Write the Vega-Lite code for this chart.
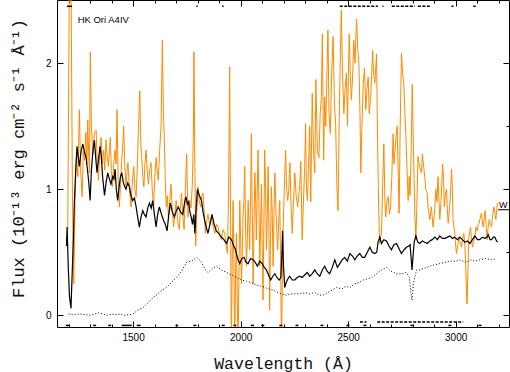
{
  "$schema": "https://vega.github.io/schema/vega-lite/v6.json",
  "width": 452,
  "height": 327,
  "autosize": {"type": "none"},
  "padding": {"left": 57, "top": 0, "right": 1, "bottom": 45},
  "background": "white",
  "config": {"view": {"stroke": null}},
  "datasets": {
    "orange": [
      {"w":1190,"f":0.55},{"w":1196,"f":0.68},{"w":1201,"f":2.0},{"w":1205,"f":3.2},{"w":1209,"f":3.2},{"w":1213,"f":2.2},{"w":1218,"f":0.9},{"w":1224,"f":0.25},{"w":1230,"f":0.9},{"w":1236,"f":1.25},{"w":1243,"f":1.1},{"w":1250,"f":1.63},{"w":1256,"f":1.15},{"w":1263,"f":0.94},{"w":1268,"f":1.3},{"w":1274,"f":1.23},{"w":1280,"f":1.45},{"w":1285,"f":1.2},{"w":1289,"f":1.55},{"w":1293,"f":1.3},{"w":1297,"f":1.13},{"w":1301,"f":2.09},{"w":1306,"f":1.5},{"w":1313,"f":1.28},{"w":1320,"f":1.45},{"w":1328,"f":1.47},{"w":1333,"f":1.2},{"w":1339,"f":1.07},{"w":1345,"f":1.3},{"w":1351,"f":1.41},{"w":1357,"f":1.2},{"w":1363,"f":1.31},{"w":1368,"f":1.15},{"w":1374,"f":1.39},{"w":1380,"f":1.25},{"w":1385,"f":1.18},{"w":1390,"f":1.3},{"w":1394,"f":1.41},{"w":1399,"f":1.15},{"w":1404,"f":1.02},{"w":1410,"f":1.2},{"w":1416,"f":1.31},{"w":1421,"f":1.2},{"w":1425,"f":1.63},{"w":1430,"f":1.1},{"w":1436,"f":0.86},{"w":1442,"f":1.05},{"w":1447,"f":1.23},{"w":1452,"f":1.35},{"w":1456,"f":1.5},{"w":1461,"f":1.2},{"w":1467,"f":1.02},{"w":1472,"f":1.15},{"w":1476,"f":1.21},{"w":1483,"f":1.0},{"w":1490,"f":0.86},{"w":1496,"f":1.05},{"w":1503,"f":1.18},{"w":1508,"f":1.0},{"w":1514,"f":0.94},{"w":1520,"f":1.2},{"w":1525,"f":1.5},{"w":1531,"f":1.78},{"w":1536,"f":1.35},{"w":1540,"f":1.25},{"w":1545,"f":1.1},{"w":1550,"f":1.02},{"w":1555,"f":1.2},{"w":1560,"f":1.31},{"w":1566,"f":1.15},{"w":1571,"f":1.04},{"w":1577,"f":1.15},{"w":1583,"f":1.21},{"w":1589,"f":1.0},{"w":1595,"f":0.86},{"w":1601,"f":1.1},{"w":1607,"f":1.25},{"w":1612,"f":1.15},{"w":1617,"f":1.07},{"w":1623,"f":1.3},{"w":1630,"f":1.5},{"w":1636,"f":2.18},{"w":1641,"f":1.6},{"w":1645,"f":1.39},{"w":1650,"f":1.05},{"w":1654,"f":0.86},{"w":1659,"f":0.95},{"w":1664,"f":0.78},{"w":1670,"f":0.9},{"w":1676,"f":1.04},{"w":1682,"f":0.85},{"w":1688,"f":0.7},{"w":1694,"f":0.8},{"w":1700,"f":0.91},{"w":1707,"f":0.75},{"w":1715,"f":0.68},{"w":1720,"f":0.85},{"w":1725,"f":0.97},{"w":1731,"f":0.8},{"w":1737,"f":0.68},{"w":1743,"f":1.0},{"w":1749,"f":1.28},{"w":1755,"f":0.78},{"w":1763,"f":0.91},{"w":1769,"f":0.85},{"w":1775,"f":1.02},{"w":1780,"f":1.4},{"w":1783,"f":2.09},{"w":1787,"f":1.2},{"w":1791,"f":0.55},{"w":1796,"f":0.8},{"w":1802,"f":1.02},{"w":1808,"f":0.9},{"w":1814,"f":0.86},{"w":1820,"f":0.95},{"w":1825,"f":0.97},{"w":1831,"f":0.8},{"w":1836,"f":0.65},{"w":1842,"f":0.75},{"w":1848,"f":0.8},{"w":1856,"f":0.72},{"w":1864,"f":0.78},{"w":1872,"f":0.7},{"w":1880,"f":0.65},{"w":1888,"f":0.72},{"w":1895,"f":0.7},{"w":1903,"f":0.63},{"w":1911,"f":0.6},{"w":1918,"f":0.68},{"w":1926,"f":0.65},{"w":1933,"f":0.55},{"w":1939,"f":0.49},{"w":1944,"f":1.0},{"w":1949,"f":1.97},{"w":1953,"f":0.8},{"w":1957,"f":-0.3},{"w":1961,"f":0.5},{"w":1965,"f":0.91},{"w":1969,"f":0.3},{"w":1973,"f":-0.2},{"w":1977,"f":0.4},{"w":1980,"f":0.65},{"w":1984,"f":0.2},{"w":1988,"f":-0.3},{"w":1992,"f":0.3},{"w":1996,"f":0.91},{"w":2000,"f":0.6},{"w":2004,"f":0.25},{"w":2008,"f":0.5},{"w":2011,"f":0.78},{"w":2015,"f":0.9},{"w":2019,"f":1.18},{"w":2023,"f":0.7},{"w":2027,"f":0.39},{"w":2031,"f":0.6},{"w":2035,"f":0.91},{"w":2039,"f":0.7},{"w":2042,"f":0.52},{"w":2046,"f":0.9},{"w":2050,"f":1.44},{"w":2054,"f":0.8},{"w":2058,"f":0.25},{"w":2062,"f":0.7},{"w":2066,"f":1.13},{"w":2070,"f":0.9},{"w":2073,"f":0.6},{"w":2077,"f":0.95},{"w":2081,"f":1.31},{"w":2085,"f":0.9},{"w":2089,"f":0.39},{"w":2093,"f":0.7},{"w":2097,"f":1.04},{"w":2100,"f":0.6},{"w":2104,"f":0.12},{"w":2108,"f":0.7},{"w":2112,"f":1.31},{"w":2116,"f":1.0},{"w":2120,"f":0.52},{"w":2124,"f":0.8},{"w":2128,"f":1.18},{"w":2132,"f":0.6},{"w":2135,"f":0.04},{"w":2139,"f":0.6},{"w":2143,"f":1.02},{"w":2147,"f":0.8},{"w":2151,"f":0.39},{"w":2155,"f":0.8},{"w":2159,"f":1.13},{"w":2165,"f":0.8},{"w":2172,"f":0.52},{"w":2177,"f":0.75},{"w":2182,"f":0.91},{"w":2186,"f":0.4},{"w":2190,"f":-0.3},{"w":2194,"f":0.3},{"w":2198,"f":0.7},{"w":2203,"f":1.0},{"w":2209,"f":1.31},{"w":2214,"f":1.0},{"w":2219,"f":0.91},{"w":2224,"f":1.0},{"w":2229,"f":1.21},{"w":2234,"f":0.9},{"w":2240,"f":0.65},{"w":2246,"f":0.9},{"w":2252,"f":1.13},{"w":2258,"f":0.95},{"w":2265,"f":0.86},{"w":2270,"f":0.95},{"w":2275,"f":1.04},{"w":2280,"f":1.22},{"w":2286,"f":0.6},{"w":2292,"f":0.9},{"w":2298,"f":1.18},{"w":2302,"f":1.52},{"w":2306,"f":1.0},{"w":2311,"f":0.91},{"w":2316,"f":1.2},{"w":2321,"f":1.5},{"w":2326,"f":0.9},{"w":2333,"f":1.76},{"w":2339,"f":1.3},{"w":2345,"f":1.13},{"w":2350,"f":1.87},{"w":2357,"f":1.3},{"w":2364,"f":1.25},{"w":2370,"f":1.6},{"w":2375,"f":1.71},{"w":2380,"f":2.23},{"w":2386,"f":1.23},{"w":2391,"f":1.73},{"w":2396,"f":1.5},{"w":2401,"f":1.9},{"w":2406,"f":2.26},{"w":2411,"f":1.6},{"w":2417,"f":1.44},{"w":2423,"f":1.9},{"w":2430,"f":2.21},{"w":2436,"f":1.7},{"w":2442,"f":1.5},{"w":2448,"f":1.0},{"w":2453,"f":0.83},{"w":2458,"f":1.5},{"w":2463,"f":2.0},{"w":2468,"f":2.42},{"w":2474,"f":1.9},{"w":2480,"f":1.6},{"w":2486,"f":1.8},{"w":2492,"f":1.92},{"w":2497,"f":1.5},{"w":2501,"f":1.9},{"w":2505,"f":2.23},{"w":2510,"f":1.9},{"w":2515,"f":1.71},{"w":2521,"f":1.9},{"w":2526,"f":2.18},{"w":2532,"f":2.0},{"w":2539,"f":2.35},{"w":2545,"f":2.1},{"w":2550,"f":2.0},{"w":2555,"f":1.6},{"w":2559,"f":1.13},{"w":2564,"f":1.5},{"w":2570,"f":1.84},{"w":2576,"f":1.96},{"w":2582,"f":1.63},{"w":2588,"f":1.8},{"w":2593,"f":1.89},{"w":2598,"f":1.6},{"w":2604,"f":1.71},{"w":2609,"f":1.9},{"w":2614,"f":2.1},{"w":2619,"f":1.9},{"w":2624,"f":1.84},{"w":2629,"f":1.98},{"w":2632,"f":2.07},{"w":2636,"f":1.5},{"w":2640,"f":1.04},{"w":2644,"f":0.7},{"w":2647,"f":0.57},{"w":2651,"f":0.62},{"w":2655,"f":0.65},{"w":2660,"f":1.0},{"w":2666,"f":1.36},{"w":2671,"f":0.9},{"w":2675,"f":0.78},{"w":2680,"f":0.9},{"w":2686,"f":0.94},{"w":2692,"f":0.8},{"w":2697,"f":0.86},{"w":2703,"f":1.1},{"w":2709,"f":1.44},{"w":2713,"f":1.2},{"w":2717,"f":1.28},{"w":2722,"f":1.4},{"w":2728,"f":1.5},{"w":2733,"f":1.1},{"w":2737,"f":0.81},{"w":2742,"f":1.5},{"w":2748,"f":2.08},{"w":2754,"f":1.9},{"w":2759,"f":1.84},{"w":2764,"f":1.6},{"w":2768,"f":1.44},{"w":2773,"f":1.2},{"w":2779,"f":0.91},{"w":2784,"f":1.1},{"w":2788,"f":0.95},{"w":2793,"f":1.3},{"w":2798,"f":1.83},{"w":2804,"f":1.3},{"w":2810,"f":0.8},{"w":2815,"f":0.6},{"w":2820,"f":0.9},{"w":2825,"f":1.26},{"w":2830,"f":1.2},{"w":2836,"f":1.16},{"w":2841,"f":1.13},{"w":2845,"f":1.28},{"w":2850,"f":1.2},{"w":2856,"f":1.1},{"w":2861,"f":1.0},{"w":2867,"f":0.97},{"w":2872,"f":0.85},{"w":2880,"f":0.76},{"w":2887,"f":0.86},{"w":2895,"f":0.7},{"w":2901,"f":0.8},{"w":2908,"f":1.0},{"w":2913,"f":0.9},{"w":2918,"f":1.1},{"w":2926,"f":0.76},{"w":2932,"f":0.9},{"w":2939,"f":1.2},{"w":2944,"f":1.08},{"w":2947,"f":0.86},{"w":2952,"f":0.95},{"w":2957,"f":1.0},{"w":2961,"f":0.85},{"w":2965,"f":0.73},{"w":2969,"f":0.8},{"w":2973,"f":0.89},{"w":2977,"f":1.0},{"w":2981,"f":1.16},{"w":2984,"f":1.03},{"w":2988,"f":0.76},{"w":2992,"f":0.7},{"w":2996,"f":0.65},{"w":3000,"f":0.55},{"w":3004,"f":0.49},{"w":3010,"f":0.56},{"w":3016,"f":0.62},{"w":3021,"f":0.58},{"w":3027,"f":0.54},{"w":3032,"f":0.6},{"w":3038,"f":0.65},{"w":3043,"f":0.55},{"w":3047,"f":0.38},{"w":3050,"f":0.2},{"w":3053,"f":0.09},{"w":3057,"f":0.35},{"w":3061,"f":0.62},{"w":3065,"f":0.66},{"w":3069,"f":0.7},{"w":3074,"f":0.6},{"w":3078,"f":0.54},{"w":3083,"f":0.58},{"w":3089,"f":0.62},{"w":3094,"f":0.7},{"w":3100,"f":0.67},{"w":3105,"f":0.72},{"w":3109,"f":0.73},{"w":3115,"f":0.78},{"w":3120,"f":0.81},{"w":3124,"f":0.75},{"w":3128,"f":0.7},{"w":3133,"f":0.78},{"w":3137,"f":0.83},{"w":3142,"f":0.7},{"w":3146,"f":0.6},{"w":3151,"f":0.7},{"w":3156,"f":0.76},{"w":3162,"f":0.72},{"w":3167,"f":0.7},{"w":3172,"f":0.8},{"w":3178,"f":0.86},{"w":3183,"f":0.8},{"w":3187,"f":0.76},{"w":3191,"f":0.84},{"w":3195,"f":0.89}
    ],
    "black": [
      {"w":1190,"f":0.55},{"w":1193,"f":0.7},{"w":1198,"f":0.4},{"w":1204,"f":0.15},{"w":1211,"f":0.055},{"w":1216,"f":0.3},{"w":1222,"f":0.6},{"w":1227,"f":0.91},{"w":1233,"f":1.15},{"w":1239,"f":1.34},{"w":1245,"f":1.25},{"w":1250,"f":1.18},{"w":1258,"f":1.3},{"w":1266,"f":1.36},{"w":1273,"f":1.3},{"w":1281,"f":1.25},{"w":1288,"f":1.15},{"w":1294,"f":1.05},{"w":1300,"f":0.91},{"w":1306,"f":1.15},{"w":1313,"f":1.3},{"w":1320,"f":1.39},{"w":1326,"f":1.25},{"w":1332,"f":1.13},{"w":1340,"f":1.25},{"w":1346,"f":1.34},{"w":1351,"f":1.28},{"w":1358,"f":1.1},{"w":1367,"f":0.95},{"w":1374,"f":1.05},{"w":1382,"f":1.13},{"w":1390,"f":1.08},{"w":1397,"f":1.04},{"w":1405,"f":1.1},{"w":1411,"f":1.08},{"w":1416,"f":1.16},{"w":1422,"f":1.0},{"w":1428,"f":0.91},{"w":1435,"f":1.02},{"w":1441,"f":1.1},{"w":1447,"f":1.13},{"w":1455,"f":1.05},{"w":1461,"f":1.02},{"w":1467,"f":1.0},{"w":1475,"f":1.05},{"w":1483,"f":1.02},{"w":1490,"f":0.95},{"w":1498,"f":0.91},{"w":1506,"f":0.93},{"w":1514,"f":0.86},{"w":1521,"f":0.78},{"w":1529,"f":0.7},{"w":1537,"f":0.78},{"w":1545,"f":0.83},{"w":1552,"f":0.8},{"w":1560,"f":0.78},{"w":1568,"f":0.85},{"w":1576,"f":0.89},{"w":1584,"f":0.85},{"w":1591,"f":0.91},{"w":1599,"f":0.8},{"w":1607,"f":0.7},{"w":1614,"f":0.8},{"w":1622,"f":0.86},{"w":1632,"f":0.8},{"w":1642,"f":0.75},{"w":1650,"f":0.72},{"w":1658,"f":0.67},{"w":1666,"f":0.8},{"w":1673,"f":0.89},{"w":1682,"f":0.82},{"w":1692,"f":0.78},{"w":1701,"f":0.83},{"w":1710,"f":0.86},{"w":1720,"f":0.82},{"w":1731,"f":0.8},{"w":1740,"f":0.9},{"w":1746,"f":0.94},{"w":1752,"f":0.88},{"w":1758,"f":0.9},{"w":1763,"f":0.83},{"w":1770,"f":0.78},{"w":1776,"f":0.72},{"w":1782,"f":0.8},{"w":1787,"f":0.65},{"w":1793,"f":0.85},{"w":1799,"f":1.0},{"w":1808,"f":0.95},{"w":1818,"f":0.91},{"w":1825,"f":0.82},{"w":1833,"f":0.75},{"w":1840,"f":0.7},{"w":1848,"f":0.65},{"w":1857,"f":0.72},{"w":1867,"f":0.8},{"w":1877,"f":0.72},{"w":1887,"f":0.67},{"w":1898,"f":0.65},{"w":1911,"f":0.62},{"w":1922,"f":0.6},{"w":1934,"f":0.57},{"w":1945,"f":0.62},{"w":1957,"f":0.6},{"w":1966,"f":0.56},{"w":1976,"f":0.52},{"w":1986,"f":0.45},{"w":1996,"f":0.41},{"w":2005,"f":0.45},{"w":2016,"f":0.46},{"w":2025,"f":0.42},{"w":2035,"f":0.41},{"w":2046,"f":0.45},{"w":2058,"f":0.44},{"w":2068,"f":0.42},{"w":2078,"f":0.39},{"w":2089,"f":0.43},{"w":2100,"f":0.41},{"w":2110,"f":0.38},{"w":2120,"f":0.36},{"w":2130,"f":0.32},{"w":2140,"f":0.28},{"w":2150,"f":0.31},{"w":2159,"f":0.33},{"w":2169,"f":0.3},{"w":2179,"f":0.28},{"w":2187,"f":0.3},{"w":2192,"f":0.5},{"w":2195,"f":0.67},{"w":2199,"f":0.4},{"w":2205,"f":0.22},{"w":2212,"f":0.26},{"w":2220,"f":0.29},{"w":2228,"f":0.31},{"w":2240,"f":0.28},{"w":2252,"f":0.28},{"w":2263,"f":0.3},{"w":2275,"f":0.31},{"w":2286,"f":0.3},{"w":2298,"f":0.32},{"w":2310,"f":0.34},{"w":2321,"f":0.31},{"w":2333,"f":0.33},{"w":2345,"f":0.36},{"w":2356,"f":0.33},{"w":2368,"f":0.31},{"w":2380,"f":0.36},{"w":2391,"f":0.39},{"w":2402,"f":0.35},{"w":2414,"f":0.33},{"w":2426,"f":0.38},{"w":2438,"f":0.44},{"w":2450,"f":0.38},{"w":2461,"f":0.41},{"w":2472,"f":0.44},{"w":2484,"f":0.46},{"w":2496,"f":0.43},{"w":2508,"f":0.49},{"w":2520,"f":0.47},{"w":2531,"f":0.44},{"w":2542,"f":0.47},{"w":2554,"f":0.49},{"w":2566,"f":0.46},{"w":2577,"f":0.46},{"w":2589,"f":0.5},{"w":2601,"f":0.54},{"w":2612,"f":0.5},{"w":2624,"f":0.49},{"w":2633,"f":0.5},{"w":2639,"f":0.58},{"w":2647,"f":0.62},{"w":2655,"f":0.57},{"w":2666,"f":0.6},{"w":2678,"f":0.59},{"w":2690,"f":0.55},{"w":2701,"f":0.52},{"w":2713,"f":0.56},{"w":2725,"f":0.57},{"w":2736,"f":0.53},{"w":2748,"f":0.49},{"w":2760,"f":0.52},{"w":2771,"f":0.54},{"w":2782,"f":0.55},{"w":2788,"f":0.56},{"w":2793,"f":0.45},{"w":2797,"f":0.36},{"w":2801,"f":0.45},{"w":2807,"f":0.58},{"w":2815,"f":0.63},{"w":2824,"f":0.58},{"w":2833,"f":0.57},{"w":2845,"f":0.59},{"w":2856,"f":0.58},{"w":2868,"f":0.57},{"w":2880,"f":0.59},{"w":2891,"f":0.6},{"w":2903,"f":0.62},{"w":2915,"f":0.6},{"w":2926,"f":0.63},{"w":2938,"f":0.61},{"w":2950,"f":0.61},{"w":2962,"f":0.62},{"w":2973,"f":0.63},{"w":2985,"f":0.61},{"w":2996,"f":0.62},{"w":3008,"f":0.6},{"w":3019,"f":0.62},{"w":3031,"f":0.6},{"w":3043,"f":0.58},{"w":3055,"f":0.59},{"w":3066,"f":0.57},{"w":3078,"f":0.6},{"w":3089,"f":0.63},{"w":3101,"f":0.6},{"w":3112,"f":0.6},{"w":3124,"f":0.62},{"w":3136,"f":0.61},{"w":3146,"f":0.62},{"w":3151,"f":0.64},{"w":3160,"f":0.6},{"w":3167,"f":0.6},{"w":3175,"f":0.62},{"w":3182,"f":0.62},{"w":3190,"f":0.59},{"w":3195,"f":0.58}
    ],
    "dotted": [
      {"w":1200,"f":0.01},{"w":1220,"f":0.005},{"w":1240,"f":0.01},{"w":1260,"f":0.01},{"w":1280,"f":0.005},{"w":1300,"f":0.0},{"w":1320,"f":0.01},{"w":1340,"f":0.02},{"w":1360,"f":0.01},{"w":1380,"f":0.0},{"w":1400,"f":0.01},{"w":1420,"f":0.005},{"w":1440,"f":0.01},{"w":1460,"f":0.0},{"w":1480,"f":0.005},{"w":1500,"f":0.01},{"w":1520,"f":0.04},{"w":1546,"f":0.06},{"w":1570,"f":0.1},{"w":1593,"f":0.14},{"w":1615,"f":0.17},{"w":1635,"f":0.2},{"w":1655,"f":0.22},{"w":1678,"f":0.26},{"w":1701,"f":0.3},{"w":1725,"f":0.35},{"w":1748,"f":0.42},{"w":1772,"f":0.43},{"w":1795,"f":0.46},{"w":1808,"f":0.44},{"w":1818,"f":0.42},{"w":1833,"f":0.37},{"w":1848,"f":0.34},{"w":1867,"f":0.37},{"w":1887,"f":0.39},{"w":1910,"f":0.36},{"w":1934,"f":0.34},{"w":1957,"f":0.32},{"w":1981,"f":0.3},{"w":2005,"f":0.28},{"w":2027,"f":0.27},{"w":2050,"f":0.26},{"w":2074,"f":0.24},{"w":2100,"f":0.23},{"w":2128,"f":0.21},{"w":2150,"f":0.2},{"w":2175,"f":0.18},{"w":2190,"f":0.17},{"w":2210,"f":0.16},{"w":2230,"f":0.17},{"w":2252,"f":0.17},{"w":2275,"f":0.17},{"w":2300,"f":0.18},{"w":2321,"f":0.17},{"w":2345,"f":0.18},{"w":2365,"f":0.16},{"w":2383,"f":0.16},{"w":2405,"f":0.18},{"w":2425,"f":0.2},{"w":2446,"f":0.22},{"w":2470,"f":0.21},{"w":2490,"f":0.23},{"w":2508,"f":0.22},{"w":2530,"f":0.25},{"w":2550,"f":0.26},{"w":2570,"f":0.28},{"w":2590,"f":0.29},{"w":2610,"f":0.3},{"w":2632,"f":0.33},{"w":2655,"f":0.36},{"w":2678,"f":0.38},{"w":2700,"f":0.35},{"w":2725,"f":0.33},{"w":2748,"f":0.33},{"w":2771,"f":0.34},{"w":2785,"f":0.3},{"w":2792,"f":0.17},{"w":2797,"f":0.12},{"w":2803,"f":0.25},{"w":2818,"f":0.36},{"w":2833,"f":0.36},{"w":2850,"f":0.37},{"w":2864,"f":0.38},{"w":2880,"f":0.39},{"w":2900,"f":0.4},{"w":2926,"f":0.41},{"w":2950,"f":0.42},{"w":2975,"f":0.43},{"w":3000,"f":0.43},{"w":3019,"f":0.44},{"w":3045,"f":0.42},{"w":3070,"f":0.44},{"w":3090,"f":0.43},{"w":3112,"f":0.44},{"w":3140,"f":0.45},{"w":3165,"f":0.44},{"w":3190,"f":0.45}
    ],
    "flags": [
      {"a":1192,"b":1216,"y":2.45,"kind":"dash"},{"a":1794,"b":1800,"y":2.45,"kind":"dash"},{"a":1914,"b":1921,"y":2.45,"kind":"dash"},{"a":2461,"b":2638,"y":2.45,"kind":"run"},{"a":2659,"b":2664,"y":2.45,"kind":"dash"},{"a":2703,"b":2810,"y":2.45,"kind":"run"},{"a":2824,"b":2880,"y":2.45,"kind":"run"},{"a":2980,"b":2990,"y":2.45,"kind":"dash"},{"a":3082,"b":3093,"y":2.45,"kind":"dash"},
      {"a":1187,"b":1205,"y":-0.08,"kind":"dash"},{"a":1314,"b":1328,"y":-0.08,"kind":"dash"},{"a":1384,"b":1398,"y":-0.08,"kind":"dash"},{"a":1447,"b":1494,"y":-0.08,"kind":"dash"},{"a":1517,"b":1535,"y":-0.08,"kind":"dash"},{"a":1697,"b":1710,"y":-0.08,"kind":"dash"},{"a":1780,"b":1794,"y":-0.08,"kind":"dash"},{"a":1912,"b":1926,"y":-0.08,"kind":"dash"},{"a":1966,"b":1980,"y":-0.08,"kind":"dash"},{"a":2047,"b":2062,"y":-0.08,"kind":"dash"},{"a":2096,"b":2110,"y":-0.08,"kind":"dash"},{"a":2180,"b":2194,"y":-0.08,"kind":"dash"},{"a":2255,"b":2269,"y":-0.08,"kind":"dash"},{"a":2371,"b":2385,"y":-0.08,"kind":"dash"},{"a":2492,"b":2506,"y":-0.08,"kind":"dash"},{"a":2571,"b":2585,"y":-0.08,"kind":"dash"},{"a":2790,"b":2804,"y":-0.08,"kind":"dash"},{"a":2966,"b":2980,"y":-0.08,"kind":"dash"},{"a":3106,"b":3120,"y":-0.08,"kind":"dash"},
      {"a":2555,"b":2585,"y":-0.053,"kind":"run"},{"a":2635,"b":3035,"y":-0.053,"kind":"run"}
    ],
    "notes": [
      {"label":"HK Ori A4IV","w":1242,"f":2.32,"kind":"title"},
      {"label":"W","w":3221,"f":0.847,"kind":"mark","w2":3248,"w1":3197,"fl":0.837}
    ]
  },
  "layer": [
    {
      "data": {"name": "orange"},
      "mark": {"type": "line", "color": "#ff8a00", "strokeWidth": 1, "clip": true},
      "encoding": {
        "x": {"field": "w", "type": "quantitative",
          "scale": {"domain": [1146, 3248], "nice": false, "zero": false},
          "axis": {
            "orient": "bottom",
            "values": [1200,1300,1400,1500,1600,1700,1800,1900,2000,2100,2200,2300,2400,2500,2600,2700,2800,2900,3000,3100,3200],
            "tickSize": {"expr": "datum.value % 500 === 0 ? -6 : -3"},
            "tickColor": "black", "tickWidth": 1,
            "domainColor": "black", "domainWidth": 1, "grid": false,
            "format": "d",
            "labelExpr": "datum.value % 500 === 0 ? datum.label : ''",
            "labelFont": "Liberation Sans", "labelFontSize": 10, "labelColor": "black",
            "labelPadding": 11.5, "labelFlush": false, "labelOverlap": false,
            "title": "Wavelength (Å)", "titleFont": "Liberation Mono", "titleFontSize": 16.5,
            "titleFontWeight": "normal", "titleColor": "#111",
            "titleX": 226, "titleY": 41, "titleBaseline": "alphabetic", "titleAlign": "center"
          }
        },
        "y": {"field": "f", "type": "quantitative",
          "scale": {"domain": [-0.0925, 2.5], "nice": false, "zero": false},
          "axis": {
            "orient": "left",
            "values": [0, 0.5, 1, 1.5, 2],
            "tickSize": {"expr": "datum.value % 1 === 0 ? -6 : -3"},
            "tickColor": "black", "tickWidth": 1,
            "domainColor": "black", "domainWidth": 1, "grid": false,
            "format": "d",
            "labelExpr": "datum.value % 1 === 0 ? datum.label : ''",
            "labelFont": "Liberation Sans", "labelFontSize": 10, "labelColor": "black",
            "labelPadding": 12, "labelFlush": false, "labelOverlap": false,
            "title": "Flux (10⁻¹³ erg cm⁻² s⁻¹ Å⁻¹)", "titleFont": "Liberation Mono", "titleFontSize": 17,
            "titleFontWeight": "normal", "titleColor": "#111",
            "titleAngle": -90, "titleX": -34, "titleY": 158, "titleBaseline": "alphabetic", "titleAlign": "center"
          }
        }
      }
    },
    {
      "data": {"name": "black"},
      "mark": {"type": "line", "color": "black", "strokeWidth": 1.2, "clip": true},
      "encoding": {
        "x": {"field": "w", "type": "quantitative",
          "scale": {"domain": [1146, 3248], "nice": false, "zero": false},
          "axis": {
            "orient": "top",
            "values": [1200,1300,1400,1500,1600,1700,1800,1900,2000,2100,2200,2300,2400,2500,2600,2700,2800,2900,3000,3100,3200],
            "tickSize": {"expr": "datum.value % 500 === 0 ? -6 : -3"},
            "tickColor": "black", "tickWidth": 1,
            "domainColor": "black", "domainWidth": 1, "grid": false,
            "labels": false, "title": null
          }
        },
        "y": {"field": "f", "type": "quantitative",
          "scale": {"domain": [-0.0925, 2.5], "nice": false, "zero": false},
          "axis": {
            "orient": "right",
            "values": [0, 0.5, 1, 1.5, 2],
            "tickSize": {"expr": "datum.value % 1 === 0 ? -6 : -3"},
            "tickColor": "black", "tickWidth": 1,
            "domainColor": "black", "domainWidth": 1, "grid": false,
            "labels": false, "title": null
          }
        }
      }
    },
    {
      "data": {"name": "dotted"},
      "mark": {"type": "line", "color": "black", "strokeWidth": 1, "strokeDash": [1, 2], "clip": true},
      "encoding": {
        "x": {"field": "w", "type": "quantitative", "scale": {"domain": [1146, 3248], "nice": false, "zero": false}, "axis": null},
        "y": {"field": "f", "type": "quantitative", "scale": {"domain": [-0.0925, 2.5], "nice": false, "zero": false}, "axis": null}
      }
    },
    {
      "data": {"name": "flags"},
      "transform": [{"filter": "datum.kind === 'dash'"}],
      "mark": {"type": "rule", "color": "black", "strokeWidth": 1.5},
      "encoding": {
        "x": {"field": "a", "type": "quantitative", "scale": {"domain": [1146, 3248], "nice": false, "zero": false}, "axis": null},
        "x2": {"field": "b"},
        "y": {"field": "y", "type": "quantitative", "scale": {"domain": [-0.0925, 2.5], "nice": false, "zero": false}, "axis": null}
      }
    },
    {
      "data": {"name": "flags"},
      "transform": [{"filter": "datum.kind === 'run'"}],
      "mark": {"type": "rule", "color": "black", "strokeWidth": 1.5, "strokeDash": [3, 1.5]},
      "encoding": {
        "x": {"field": "a", "type": "quantitative", "scale": {"domain": [1146, 3248], "nice": false, "zero": false}, "axis": null},
        "x2": {"field": "b"},
        "y": {"field": "y", "type": "quantitative", "scale": {"domain": [-0.0925, 2.5], "nice": false, "zero": false}, "axis": null}
      }
    },
    {
      "data": {"name": "notes"},
      "transform": [{"filter": "datum.kind === 'title'"}],
      "mark": {"type": "text", "align": "left", "baseline": "alphabetic", "font": "Liberation Sans", "fontSize": 9.5, "color": "black"},
      "encoding": {
        "x": {"field": "w", "type": "quantitative", "scale": {"domain": [1146, 3248], "nice": false, "zero": false}, "axis": null},
        "y": {"field": "f", "type": "quantitative", "scale": {"domain": [-0.0925, 2.5], "nice": false, "zero": false}, "axis": null},
        "text": {"field": "label"}
      }
    },
    {
      "data": {"name": "notes"},
      "transform": [{"filter": "datum.kind === 'mark'"}],
      "mark": {"type": "text", "align": "center", "baseline": "alphabetic", "font": "Liberation Sans", "fontSize": 9, "color": "black"},
      "encoding": {
        "x": {"field": "w", "type": "quantitative", "scale": {"domain": [1146, 3248], "nice": false, "zero": false}, "axis": null},
        "y": {"field": "f", "type": "quantitative", "scale": {"domain": [-0.0925, 2.5], "nice": false, "zero": false}, "axis": null},
        "text": {"field": "label"}
      }
    },
    {
      "data": {"name": "notes"},
      "transform": [{"filter": "datum.kind === 'mark'"}],
      "mark": {"type": "rule", "color": "black", "strokeWidth": 1},
      "encoding": {
        "x": {"field": "w1", "type": "quantitative", "scale": {"domain": [1146, 3248], "nice": false, "zero": false}, "axis": null},
        "x2": {"field": "w2"},
        "y": {"field": "fl", "type": "quantitative", "scale": {"domain": [-0.0925, 2.5], "nice": false, "zero": false}, "axis": null}
      }
    }
  ],
  "resolve": {"axis": {"x": "independent", "y": "independent"}}
}
